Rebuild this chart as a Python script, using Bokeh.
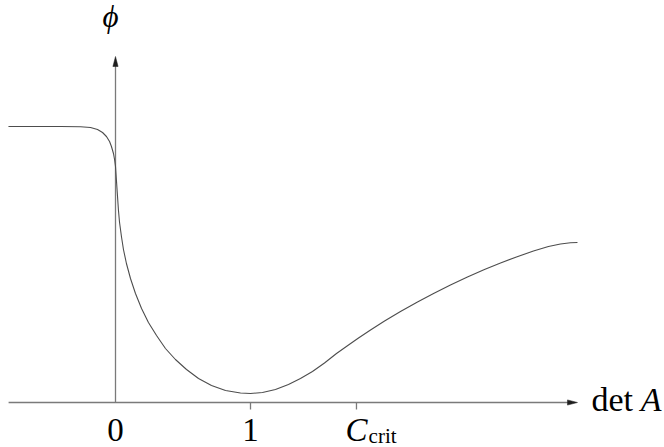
from bokeh.plotting import figure
from bokeh.models import Range1d
from bokeh.core.properties import value
from bokeh.embed import file_html
from bokeh.resources import INLINE

# ---- data ----
det_A = [-0.793, -0.407, -0.259, -0.185, -0.133, -0.096, -0.067, -0.044, -0.030, -0.015,
         -0.007, 0.0, 0.007, 0.015, 0.022, 0.030, 0.044, 0.059, 0.081, 0.111,
         0.148, 0.193, 0.244, 0.304, 0.370, 0.444, 0.526, 0.615, 0.711, 0.815,
         0.926, 1.000, 1.089, 1.185, 1.281, 1.370, 1.459, 1.548, 1.637, 1.726,
         1.800, 1.889, 1.993, 2.111, 2.237, 2.356, 2.481, 2.607, 2.733, 2.852,
         2.970, 3.096, 3.207, 3.296, 3.370, 3.422]
phi = [2.76, 2.76, 2.757, 2.75, 2.73, 2.70, 2.66, 2.61, 2.56, 2.49,
       2.43, 2.36, 2.22, 2.06, 1.92, 1.80, 1.66, 1.53, 1.39, 1.24,
       1.09, 0.94, 0.80, 0.67, 0.54, 0.43, 0.33, 0.24, 0.17, 0.12,
       0.095, 0.09, 0.10, 0.13, 0.18, 0.24, 0.31, 0.395, 0.49, 0.575,
       0.645, 0.725, 0.815, 0.91, 1.005, 1.09, 1.175, 1.255, 1.33, 1.395,
       1.455, 1.515, 1.56, 1.585, 1.597, 1.60]

C_crit = 1.785
tick_values = [0, 1, C_crit]
tick_labels = ["0", "1"]

x_axis_end = 3.422
y_axis_end = 3.46

FONT = value("Liberation Serif")
W, H = 664, 447
XR = (-0.85185, 4.06667)
YR = (-0.45, 4.02)
px_x = W / (XR[1] - XR[0])   # pixels per data unit (x)
px_y = H / (YR[1] - YR[0])   # pixels per data unit (y)

p = figure(width=W, height=H, output_backend="svg", toolbar_location=None,
           x_range=Range1d(*XR), y_range=Range1d(*YR), min_border=0)
p.axis.visible = False
p.grid.visible = False
p.outline_line_color = None
p.background_fill_color = "white"

AX = "#7a7a7a"
HEAD = "#1e1e1e"
head_len, head_half = 10.0, 2.6

# horizontal axis + arrow head
p.segment(x0=[XR[0] + 0.06], y0=[0], x1=[x_axis_end - 6 / px_x], y1=[0],
          line_color=AX, line_width=1.3)
p.patch([x_axis_end, x_axis_end - head_len / px_x, x_axis_end - head_len / px_x],
        [0, head_half / px_y, -head_half / px_y], fill_color=HEAD, line_color=HEAD,
        line_width=0.5)
# vertical axis + arrow head
p.segment(x0=[0], y0=[0], x1=[0], y1=[y_axis_end - 6 / px_y],
          line_color=AX, line_width=1.3)
p.patch([0, head_half / px_x, -head_half / px_x],
        [y_axis_end, y_axis_end - head_len / px_y, y_axis_end - head_len / px_y],
        fill_color=HEAD, line_color=HEAD, line_width=0.5)

# ticks at 1 and C_crit
p.segment(x0=tick_values[1:], y0=[0, 0], x1=tick_values[1:], y1=[-0.07, -0.07],
          line_color=AX, line_width=1.3)

# curve
p.line(det_A, phi, line_color="#4d4d4d", line_width=1.1)

# tick labels
p.text(x=tick_values[:2], y=[-0.276, -0.276], text=tick_labels, text_font=FONT,
       text_font_size="33px", text_align="center", text_baseline="alphabetic",
       text_color="black")
p.text(x=[C_crit], y=[-0.276], text=["C"], text_font=FONT,
       text_font_size="33px", text_font_style="italic", text_align="center",
       text_baseline="alphabetic", text_color="black")
p.text(x=[C_crit + 0.09], y=[-0.334], text=["crit"], text_font=FONT,
       text_font_size="21px", text_align="left", text_baseline="alphabetic",
       text_color="black")

# axis titles
p.text(x=[3.526], y=[0.027], text=["det"], text_font=FONT, text_font_size="34px",
       text_align="left", text_baseline="alphabetic", text_color="black")
p.text(x=[3.89], y=[0.027], text=["A"], text_font=FONT, text_font_size="34px",
       text_font_style="italic", text_align="left", text_baseline="alphabetic",
       text_color="black")
p.text(x=[-0.037], y=[3.857], text=["ϕ"], text_font=FONT, text_font_size="31px",
       text_font_style="italic", text_align="center", text_baseline="alphabetic",
       text_color="black")

open("out.html", "w").write(file_html(p, INLINE))
